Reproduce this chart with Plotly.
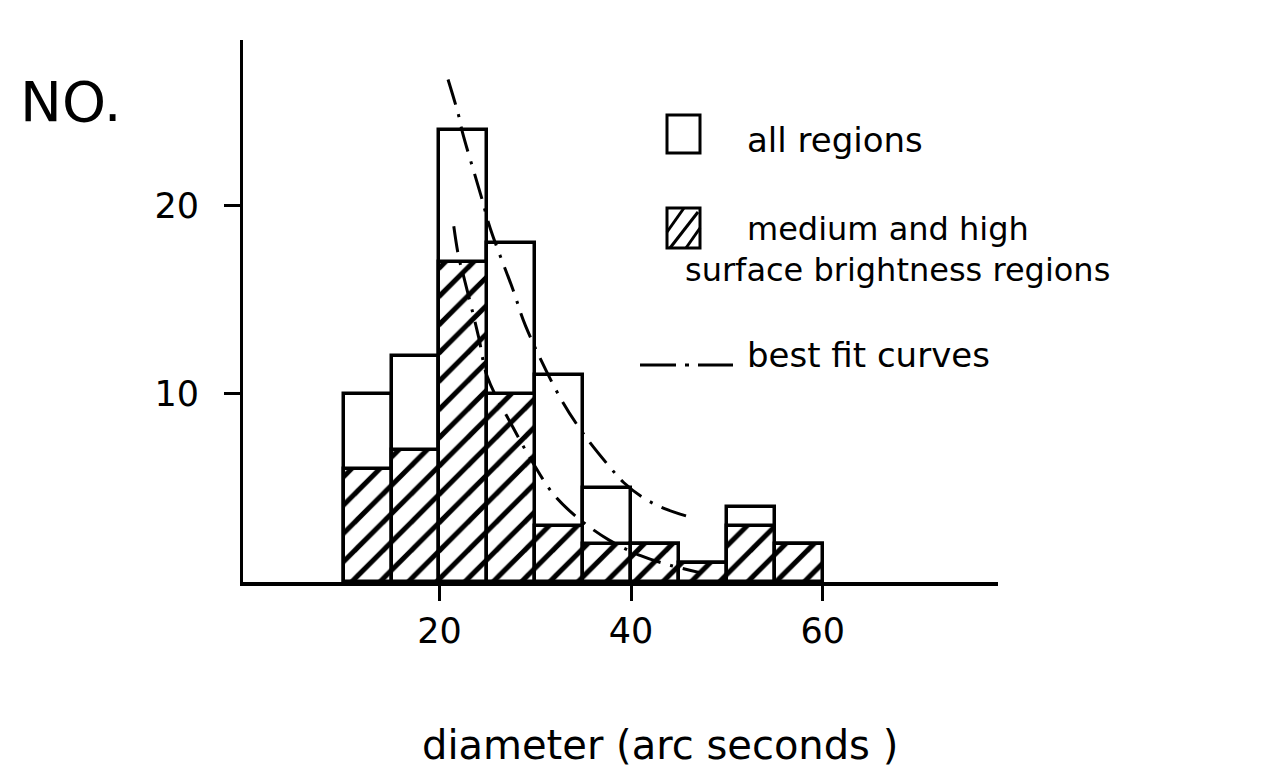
import plotly.graph_objects as go

# ---- data ----
bin_left = [10, 15, 20, 25, 30, 35, 40, 45, 50, 55]
bin_width = 5
all_regions = [10, 12, 24, 18, 11, 5, 2, 1, 4, 2]
med_high = [6, 7, 17, 10, 3, 2, 2, 1, 3, 2]

fit_all_x = [20.9, 22.0, 22.4, 24.3, 25.3, 27.7, 29.0, 32.6, 35.0, 37.8, 39.2, 41.2, 43.5, 46.5]
fit_all_y = [26.7, 24.8, 23.9, 20.6, 18.8, 15.5, 13.6, 9.8, 7.9, 6.1, 5.3, 4.5, 3.9, 3.4]

fit_med_x = [21.5, 22.0, 22.6, 24.1, 25.0, 27.7, 29.8, 32.0, 34.7, 37.8, 41.0, 44.0, 47.2]
fit_med_y = [18.9, 17.3, 16.1, 13.0, 10.9, 8.2, 6.3, 4.6, 3.3, 2.2, 1.4, 0.9, 0.5]

x_ticks = [20, 40, 60]
y_ticks = [10, 20]

FONT = "DejaVu Sans"
W, H = 1288, 772
L, R, T, B = 243, 290, 40, 190
PW, PH = W - L - R, H - T - B


def px(X):
    return (X - L) / PW


def py(Y):
    return (H - B - Y) / PH


centers = [b + bin_width / 2 for b in bin_left]
dash = "26px,10px,3px,10px"

fig = go.Figure()
fig.add_trace(go.Bar(
    x=centers, y=all_regions, width=[bin_width] * len(centers),
    marker=dict(color="white", line=dict(color="black", width=3.5)),
    name="all regions", showlegend=False,
))
fig.add_trace(go.Bar(
    x=centers, y=med_high, width=[bin_width] * len(centers),
    marker=dict(color="white", line=dict(color="black", width=3.5),
                pattern=dict(shape="/", fgcolor="black", bgcolor="white",
                             size=20, solidity=0.25, fgopacity=1)),
    name="medium and high surface brightness regions", showlegend=False,
))
fig.add_trace(go.Scatter(
    x=fit_all_x, y=fit_all_y, mode="lines", line_shape="spline",
    line=dict(color="black", width=3, dash=dash), showlegend=False,
))
fig.add_trace(go.Scatter(
    x=fit_med_x, y=fit_med_y, mode="lines", line_shape="spline",
    line=dict(color="black", width=3, dash=dash), showlegend=False,
))

fig.update_layout(
    width=W, height=H, barmode="overlay", bargap=0,
    margin=dict(l=L, r=R, t=T, b=B, pad=0),
    paper_bgcolor="white", plot_bgcolor="white",
    font=dict(family=FONT, color="black", size=34),
    showlegend=False,
)
fig.update_xaxes(
    range=[-0.5, 78.3], tickvals=x_ticks, ticktext=[str(v) for v in x_ticks],
    showgrid=False, zeroline=False, showline=True, linecolor="black", linewidth=4,
    ticks="outside", ticklen=15, tickwidth=3, tickcolor="black",
    tickfont=dict(size=35), ticklabelstandoff=0,
)
fig.update_yaxes(
    range=[0, 28.8], tickvals=y_ticks, ticktext=[str(v) for v in y_ticks],
    showgrid=False, zeroline=False, showline=True, linecolor="black", linewidth=3,
    ticks="outside", ticklen=16, tickwidth=3, tickcolor="black",
    tickfont=dict(size=35), ticklabelstandoff=18,
)

ann = []
ann.append(dict(text="NO.", xref="paper", yref="paper", x=px(18), y=py(101),
                xanchor="left", yanchor="middle", showarrow=False,
                font=dict(size=56)))
ann.append(dict(text="diameter (arc seconds )", xref="paper", yref="paper",
                x=px(660), y=py(745), xanchor="center", yanchor="middle",
                showarrow=False, font=dict(size=40)))
ann.append(dict(text="all regions", xref="paper", yref="paper", x=px(745), y=py(140),
                xanchor="left", yanchor="middle", showarrow=False, font=dict(size=34)))
ann.append(dict(text="medium and high", xref="paper", yref="paper", x=px(745), y=py(229),
                xanchor="left", yanchor="middle", showarrow=False, font=dict(size=32)))
ann.append(dict(text="surface brightness regions", xref="paper", yref="paper", x=px(683),
                y=py(270), xanchor="left", yanchor="middle", showarrow=False,
                font=dict(size=32)))
ann.append(dict(text="best fit curves", xref="paper", yref="paper", x=px(745), y=py(355),
                xanchor="left", yanchor="middle", showarrow=False, font=dict(size=34)))
fig.update_layout(annotations=ann)

shapes = []
shapes.append(dict(type="rect", xref="paper", yref="paper",
                   x0=px(667), x1=px(700), y0=py(153), y1=py(115),
                   line=dict(color="black", width=3), fillcolor="white"))
shapes.append(dict(type="rect", xref="paper", yref="paper",
                   x0=px(667), x1=px(700), y0=py(248), y1=py(208),
                   line=dict(color="black", width=3), fillcolor="white"))
for (xa, ya, xb, yb) in [(667, 232, 684, 208), (670, 248, 698, 212), (686, 248, 700, 228)]:
    shapes.append(dict(type="line", xref="paper", yref="paper",
                       x0=px(xa), y0=py(ya), x1=px(xb), y1=py(yb),
                       line=dict(color="black", width=3)))
shapes.append(dict(type="line", xref="paper", yref="paper",
                   x0=px(640), x1=px(733), y0=py(365), y1=py(365),
                   line=dict(color="black", width=3, dash="36px,9px,4px,9px")))
fig.update_layout(shapes=shapes)

fig.write_html("out.html")
